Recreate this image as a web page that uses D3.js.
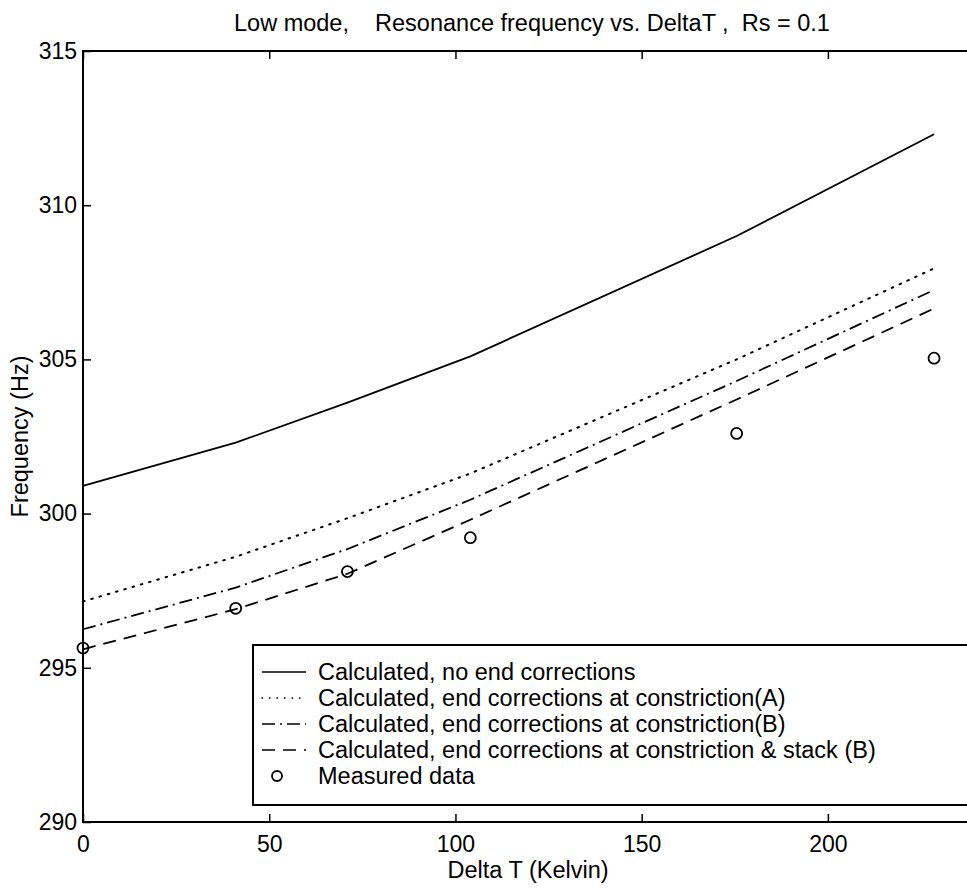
<!DOCTYPE html>
<html>
<head>
<meta charset="utf-8">
<script src="https://cdn.jsdelivr.net/npm/d3@7"></script>
<style>
  html, body { margin: 0; padding: 0; background: #fff; }
  svg { display: block; }
  text { font-family: "Liberation Sans", Arial, Helvetica, sans-serif; fill: #000; white-space: pre; }
</style>
</head>
<body>
<svg id="chart" width="967" height="888"></svg>
<script>
// ---- data ----
const deltaT = [0, 41, 71, 104, 175.5, 228.5];
const noEndCorr = [300.9, 302.3, 303.6, 305.1, 309.0, 312.3];
const endCorrA = [297.15, 298.6, 299.85, 301.3, 305.0, 307.95];
const endCorrB = [296.25, 297.6, 298.85, 300.45, 304.3, 307.25];
const endCorrStackB = [295.6, 296.9, 298.05, 299.8, 303.7, 306.65];
const measured = [295.64, 296.93, 298.12, 299.22, 302.6, 305.04];
const xTicks = [0, 50, 100, 150, 200];
const yTicks = [290, 295, 300, 305, 310, 315];
const seriesNames = [
  "Calculated, no end corrections",
  "Calculated, end corrections at constriction(A)",
  "Calculated, end corrections at constriction(B)",
  "Calculated, end corrections at constriction & stack (B)",
  "Measured data"
];
const titleText = "Low mode,    Resonance frequency vs. DeltaT ,  Rs = 0.1";

// ---- layout ----
const svg = d3.select("#chart");
const L = 83, R = 975, T = 51, B = 822;
const x = d3.scaleLinear().domain([0, 239.5]).range([L, R]);
const y = d3.scaleLinear().domain([290, 315]).range([B, T]);

const styles = [
  { dash: null },
  { dash: "1.6,7" },
  { dash: "13,5,2,5" },
  { dash: "13,8" }
];
const lineData = [noEndCorr, endCorrA, endCorrB, endCorrStackB];

const line = d3.line().x(d => x(d[0])).y(d => y(d[1]));

const plot = svg.append("g");
lineData.forEach((vals, i) => {
  plot.append("path")
    .datum(deltaT.map((t, k) => [t, vals[k]]))
    .attr("d", line)
    .attr("fill", "none")
    .attr("stroke", "#000")
    .attr("stroke-width", i === 1 ? 2 : 1.8)
    .attr("stroke-linecap", i === 1 ? "round" : "butt")
    .attr("stroke-dasharray", styles[i].dash);
});

plot.selectAll("circle.meas")
  .data(deltaT.map((t, k) => [t, measured[k]]))
  .enter().append("circle")
  .attr("cx", d => x(d[0]))
  .attr("cy", d => y(d[1]))
  .attr("r", 5.5)
  .attr("fill", "none")
  .attr("stroke", "#000")
  .attr("stroke-width", 1.8);

// ---- frame and axes ----
svg.append("rect")
  .attr("x", L).attr("y", T).attr("width", R - L).attr("height", B - T)
  .attr("fill", "none").attr("stroke", "#000").attr("stroke-width", 2);

const xAxis = d3.axisBottom(x).tickValues(xTicks).tickSizeInner(-8).tickSizeOuter(0).tickPadding(14);
const gx = svg.append("g").attr("transform", `translate(0,${B})`).call(xAxis);
const xAxisTop = d3.axisTop(x).tickValues(xTicks).tickSizeInner(-8).tickSizeOuter(0).tickFormat("");
const gxt = svg.append("g").attr("transform", `translate(0,${T})`).call(xAxisTop);
const yAxis = d3.axisLeft(y).tickValues(yTicks).tickSizeInner(-8).tickSizeOuter(0).tickPadding(6);
const gy = svg.append("g").attr("transform", `translate(${L},0)`).call(yAxis);

[gx, gxt, gy].forEach(g => {
  g.select(".domain").remove();
  g.selectAll(".tick line").attr("stroke", "#000").attr("stroke-width", 1.5);
  g.selectAll(".tick text").attr("font-size", 23).attr("font-family", "Liberation Sans, Arial, sans-serif").attr("fill", "#000");
});
gx.selectAll(".tick text").attr("dy", "0.71em");

// ---- labels ----
svg.append("text")
  .attr("x", 234).attr("y", 31)
  .attr("font-size", 23.5)
  .text(titleText);

svg.append("text")
  .attr("x", 528).attr("y", 878)
  .attr("text-anchor", "middle")
  .attr("font-size", 23.5)
  .text("Delta T (Kelvin)");

svg.append("text")
  .attr("transform", `translate(28,${(T + B) / 2}) rotate(-90)`)
  .attr("text-anchor", "middle")
  .attr("font-size", 23.5)
  .text("Frequency (Hz)");

// ---- legend ----
const lg = svg.append("g");
const LX = 253, LT = 645, LB = 805;
lg.append("rect")
  .attr("x", LX).attr("y", LT).attr("width", 980 - LX).attr("height", LB - LT)
  .attr("fill", "#fff").attr("stroke", "#000").attr("stroke-width", 2);

const rowY = d3.scalePoint().domain(d3.range(5)).range([672, 776]);
seriesNames.forEach((name, i) => {
  const yy = rowY(i);
  if (i < 4) {
    lg.append("line")
      .attr("x1", 262).attr("x2", 306).attr("y1", yy).attr("y2", yy)
      .attr("stroke", "#000").attr("stroke-width", 1.6)
      .attr("stroke-linecap", i === 1 ? "round" : "butt")
      .attr("stroke-dasharray", i === 1 ? "0.5,7" : styles[i].dash);
  } else {
    lg.append("circle").attr("cx", 277).attr("cy", yy).attr("r", 5)
      .attr("fill", "none").attr("stroke", "#000").attr("stroke-width", 1.8);
  }
  lg.append("text")
    .attr("x", 318).attr("y", yy).attr("dy", "0.36em")
    .attr("font-size", 23.5)
    .text(name);
});
</script>
</body>
</html>
